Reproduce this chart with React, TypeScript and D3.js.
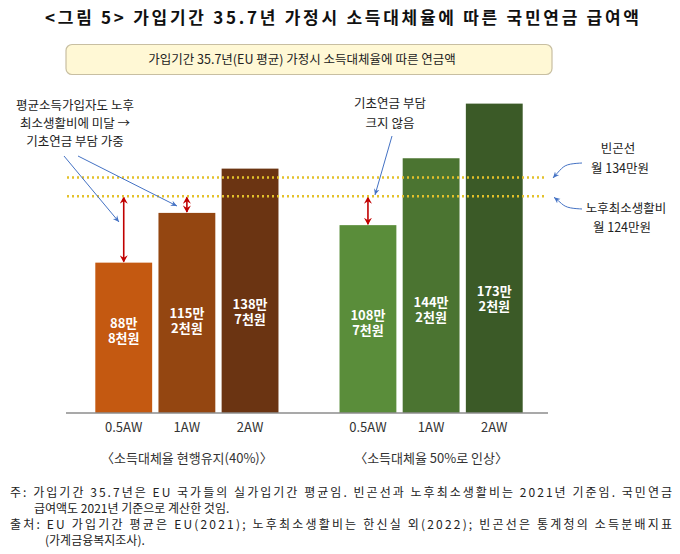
import { useEffect } from "react";
import { scaleBand, scaleLinear, line, curveBasis } from "d3";

// ---- data (만원/월) ----
const groups = ["〈소득대체율 현행유지(40%)〉", "〈소득대체율 50%로 인상〉"];
const categories = ["0.5AW", "1AW", "2AW"];
const currentValues = [88.8, 115.2, 138.7];
const raisedValues = [108.7, 144.2, 173.2];
const currentLabels = [["88만", "8천원"], ["115만", "2천원"], ["138만", "7천원"]];
const raisedLabels = [["108만", "7천원"], ["144만", "2천원"], ["173만", "2천원"]];
const povertyLine = 134;
const minLiving = 124;

const currentColors = ["#C45911", "#944611", "#6B3412"];
const raisedColors = ["#5A8D3A", "#4B7431", "#3B5A27"];

const W = 680;
const H = 554;
const FONT = "'Noto Sans CJK KR', 'Noto Sans', sans-serif";

export default function App() {
  useEffect(() => {
    document.body.style.margin = "0";
  }, []);

  const y = scaleLinear().domain([9, 180]).range([413, 90.8]);
  const outer = scaleBand<string>().domain(groups).range([66, 552]).paddingInner(0.25).paddingOuter(0.12);
  const inner = scaleBand<string>().domain(categories).range([0, outer.bandwidth()]).paddingInner(0.1);

  const series = [
    { group: groups[0], values: currentValues, labels: currentLabels, colors: currentColors },
    { group: groups[1], values: raisedValues, labels: raisedLabels, colors: raisedColors },
  ];

  const baseY = y(9);
  const curve = line<[number, number]>().curve(curveBasis);

  return (
    <svg width={W} height={H} style={{ display: "block", background: "#fff", fontFamily: FONT }}>
      <defs>
        <marker id="blueHead" viewBox="0 0 10 10" refX="9" refY="5" markerWidth="7" markerHeight="7" orient="auto">
          <path d="M0,1 L9,5 L0,9 L3,5 Z" fill="#4472C4" />
        </marker>
        <marker id="redHead" viewBox="0 0 10 10" refX="8" refY="5" markerWidth="5" markerHeight="5" orient="auto-start-reverse">
          <path d="M0,0 L9,5 L0,10 L3,5 Z" fill="#C00000" />
        </marker>
      </defs>

      {/* title */}
      <text x={342} y={24} textAnchor="middle" fontSize={17} fontWeight="bold" fill="#111"
        textLength={594} lengthAdjust="spacing">
        {"<그림 5> 가입기간 35.7년 가정시 소득대체율에 따른 국민연금 급여액"}
      </text>

      {/* subtitle box */}
      <rect x={66} y={44.5} width={486} height={30} rx={6} fill="#FFF8D5" stroke="#C8BFA2" strokeWidth={1.2} />
      <text x={302} y={64} textAnchor="middle" fontSize={12.5} fill="#222">
        가입기간 35.7년(EU 평균) 가정시 소득대체율에 따른 연금액
      </text>

      {/* bars */}
      {series.map((s) => {
        const gx = outer(s.group) ?? 0;
        return (
          <g key={s.group} transform={`translate(${gx},0)`}>
            {s.values.map((v, i) => {
              const bx = inner(categories[i]) ?? 0;
              const cx = bx + inner.bandwidth() / 2;
              const ly = y(35 + 0.2 * v);
              return (
                <g key={categories[i]}>
                  <rect x={bx} y={y(v)} width={inner.bandwidth()} height={baseY - y(v)} fill={s.colors[i]} />
                  <text x={cx} y={ly - 3} textAnchor="middle" fontSize={13} fontWeight="bold" fill="#fff">
                    <tspan x={cx}>{s.labels[i][0]}</tspan>
                    <tspan x={cx} dy={15}>{s.labels[i][1]}</tspan>
                  </text>
                  <text x={cx} y={432} textAnchor="middle" fontSize={13} fill="#333">
                    {categories[i]}
                  </text>
                  {v < minLiving && (
                    <line x1={cx} x2={cx} y1={y(minLiving) + 1} y2={y(v) - 1} stroke="#C00000" strokeWidth={1.6}
                      markerStart="url(#redHead)" markerEnd="url(#redHead)" />
                  )}
                </g>
              );
            })}
            <text x={outer.bandwidth() / 2} y={463} textAnchor="middle" fontSize={13} fill="#333">
              {s.group}
            </text>
          </g>
        );
      })}

      {/* axis baseline */}
      <line x1={66} x2={548} y1={baseY} y2={baseY} stroke="#8C8C8C" strokeWidth={1.3} />

      {/* reference lines */}
      {[povertyLine, minLiving].map((v) => (
        <line key={v} x1={67} x2={546} y1={y(v)} y2={y(v)} stroke="#E3C12B" strokeWidth={2.6}
          strokeDasharray="2 3" />
      ))}

      {/* left annotation */}
      <text fontSize={12.5} fill="#222" textAnchor="middle" x={75} y={110}>
        <tspan x={75}>평균소득가입자도 노후</tspan>
        <tspan x={75} dy={18}>최소생활비에 미달 →</tspan>
        <tspan x={75} dy={18}>기초연금 부담 가중</tspan>
      </text>
      <line x1={64} y1={156} x2={119} y2={222} stroke="#4472C4" strokeWidth={1} markerEnd="url(#blueHead)" />
      <line x1={78} y1={156} x2={177} y2={206} stroke="#4472C4" strokeWidth={1} markerEnd="url(#blueHead)" />

      {/* right-group annotation */}
      <text fontSize={12.5} fill="#222" textAnchor="middle" x={390} y={108}>
        <tspan x={390}>기초연금 부담</tspan>
        <tspan x={390} dy={20}>크지 않음</tspan>
      </text>
      <line x1={392} y1={136} x2={375} y2={195} stroke="#4472C4" strokeWidth={1} markerEnd="url(#blueHead)" />

      {/* reference line labels */}
      <text fontSize={12.5} fill="#222" textAnchor="middle" x={618} y={153}>
        <tspan x={618}>빈곤선</tspan>
        <tspan x={620} dy={20}>월 134만원</tspan>
      </text>
      <text fontSize={12.5} fill="#222" textAnchor="middle" x={626} y={213}>
        <tspan x={626}>노후최소생활비</tspan>
        <tspan x={622} dy={19}>월 124만원</tspan>
      </text>
      <path d={curve([[582, 163], [566, 164], [560, 170], [553, y(povertyLine) + 0.5]]) ?? ""} fill="none"
        stroke="#4472C4" strokeWidth={1} markerEnd="url(#blueHead)" />
      <path d={curve([[582, 209], [566, 208], [560, 202], [554, y(minLiving) + 1]]) ?? ""} fill="none"
        stroke="#4472C4" strokeWidth={1} markerEnd="url(#blueHead)" />

      {/* footnotes */}
      <g fontSize={12} fill="#222">
        <text x={10} y={497} textLength={662} lengthAdjust="spacing">
          주: 가입기간 35.7년은 EU 국가들의 실가입기간 평균임. 빈곤선과 노후최소생활비는 2021년 기준임. 국민연금
        </text>
        <text x={34} y={513}>급여액도 2021년 기준으로 계산한 것임.</text>
        <text x={10} y={529} textLength={662} lengthAdjust="spacing">
          출처: EU 가입기간 평균은 EU(2021); 노후최소생활비는 한신실 외(2022); 빈곤선은 통계청의 소득분배지표
        </text>
        <text x={45} y={545}>(가계금융복지조사).</text>
      </g>
    </svg>
  );
}
